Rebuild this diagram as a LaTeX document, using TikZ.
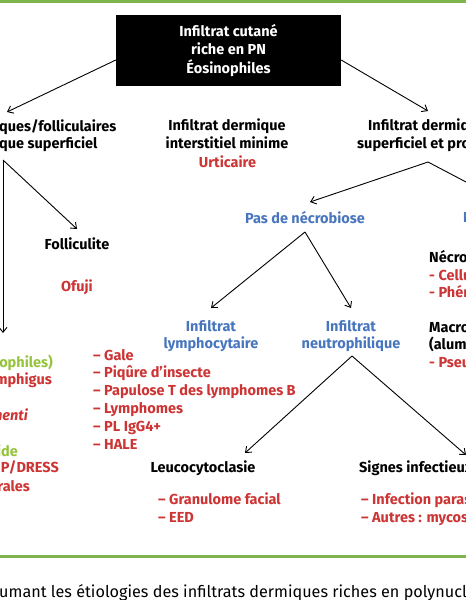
\documentclass[tikz,border=0pt]{standalone}
\usepackage{fontspec}
\setmainfont{Fira Sans}
\usetikzlibrary{arrows.meta}
\definecolor{txred}{RGB}{205,52,52}
\definecolor{txblue}{RGB}{72,118,190}
\definecolor{txgreen}{RGB}{150,195,60}
\definecolor{lngreen}{RGB}{125,180,75}
\begin{document}
\begin{tikzpicture}[x=1pt,y=-1pt,
  t/.style={inner sep=0pt, anchor=base, font=\bfseries\fontsize{14.5}{16}\selectfont},
  tw/.style={t, anchor=base west},
  te/.style={t, anchor=base east},
  rd/.style={text=txred},
  bl/.style={text=txblue},
  gn/.style={text=txgreen},
  arr/.style={draw=black, line width=0.9pt, -{Straight Barb[length=5pt,width=8pt]}},
  rule/.style={draw=lngreen, line width=2.8pt}
]
\useasboundingbox (0,0) rectangle (466,600);
\clip (0,0) rectangle (466,600);
\fill[white] (0,0) rectangle (466,600);
\draw[rule] (-5,1.5) -- (471,1.5);
\draw[rule] (-5,556.5) -- (471,556.5);

% root box
\node[fill=black, minimum width=225pt, minimum height=71pt, inner sep=0pt,
      text=white, align=center, font=\bfseries\fontsize{14.5}{18.5}\selectfont]
      (box) at (228.5,50.5) {Infiltrat cutané\\riche en PN\\Éosinophiles};

% first level
\node[tw] (lt1) at (-1,131) {ques/folliculaires};
\node[tw] (lt2) at (-1,148) {que superficiel};
\node[t] (mid1) at (227,130) {Infiltrat dermique};
\node[t] (mid2) at (227,148) {interstitiel minime};
\node[t,rd] (urt) at (227.5,167) {Urticaire};
\node[tw] (r1) at (368,130) {Infiltrat dermiq};
\node[tw] (r2) at (357,148) {superficiel et prof};

% folliculite
\node[t] (foll) at (77,249) {Folliculite};
\node[t,rd] (ofuji) at (77,291) {Ofuji};

% necrobiose level
\node[t,bl] (pas) at (305,223) {Pas de nécrobiose};
\node[tw,bl] (necb) at (463,222) {N};
\node[tw] (nec) at (429,262) {Nécro};
\node[tw,rd] (cell) at (429,280) {- Cellu};
\node[tw,rd] (phen) at (429,297) {- Phén};
\node[tw] (macro) at (429,332) {Macro};
\node[tw] (alum) at (429,349) {(alum};
\node[tw,rd] (pseu) at (429,367) {- Pseu};

% infiltrats
\node[t,bl] (ly1) at (211,331) {Infiltrat};
\node[t,bl] (ly2) at (211,348) {lymphocytaire};
\node[t,bl] (ne1) at (351,331) {Infiltrat};
\node[t,bl] (ne2) at (351,348) {neutrophilique};

% middle list
\node[tw,rd] (l1) at (93,360) {– Gale};
\node[tw,rd] (l2) at (93,377.5) {– Piqûre d’insecte};
\node[tw,rd] (l3) at (93,395) {– Papulose T des lymphomes B};
\node[tw,rd] (l4) at (93,413) {– Lymphomes};
\node[tw,rd] (l5) at (93,431) {– PL IgG4+};
\node[tw,rd] (l6) at (93,449) {– HALE};

% left column fragments
\node[te,gn] (f1) at (53,367) {nophiles)};
\node[te,rd] (f2) at (52,384) {mphigus};
\node[te,rd,font=\bfseries\itshape\fontsize{14.5}{16}\selectfont] (f3) at (28,420) {menti};
\node[te,gn] (f4) at (18,456) {ide};
\node[te,rd] (f5) at (59,472) {P/DRESS};
\node[te,rd] (f6) at (30,491) {rales};

% bottom level
\node[t] (leuco) at (203,472) {Leucocytoclasie};
\node[tw] (signes) at (359,472) {Signes infectieux};
\node[tw,rd] (gran) at (158,504) {– Granulome facial};
\node[tw,rd] (eed) at (158,522) {– EED};
\node[tw,rd] (infp) at (361,504) {– Infection paras};
\node[tw,rd] (autres) at (361,522) {– Autres : mycos};

% caption
\node[anchor=base west, inner sep=0pt, font=\fontsize{16.2}{18}\selectfont]
  (cap) at (-1,597) {umant les étiologies des infiltrats dermiques riches en polynucl};

% connector ends
\coordinate (ltin) at (7,112);
\coordinate (ltout) at (3,160);
\coordinate (rin) at (428,111);
\coordinate (rout) at (428,162);
\coordinate (follin) at (77,229);
\coordinate (leftdown) at (3,333);
\coordinate (pasin) at (310,202);
\coordinate (pasout) at (305,232);
\coordinate (necbin) at (490,194.6);
\coordinate (lyin) at (211,308);
\coordinate (nein) at (351,308);
\coordinate (neout) at (352,356);
\coordinate (leucoin) at (245,453);
\coordinate (signesin) at (466,455);

% connectors
\draw[arr] ([yshift=-9.5pt]box.west) -- (ltin);
\draw[arr] ([yshift=-9.5pt]box.east) -- (rin);
\draw[arr] (ltout) -- (leftdown);
\draw[arr] (ltout) -- (follin);
\draw[arr] (rout) -- (pasin);
\draw[arr] (rout) -- (necbin);
\draw[arr] (pasout) -- (lyin);
\draw[arr] (pasout) -- (nein);
\draw[arr] (neout) -- (leucoin);
\draw[arr] (neout) -- (signesin);
\end{tikzpicture}
\end{document}
